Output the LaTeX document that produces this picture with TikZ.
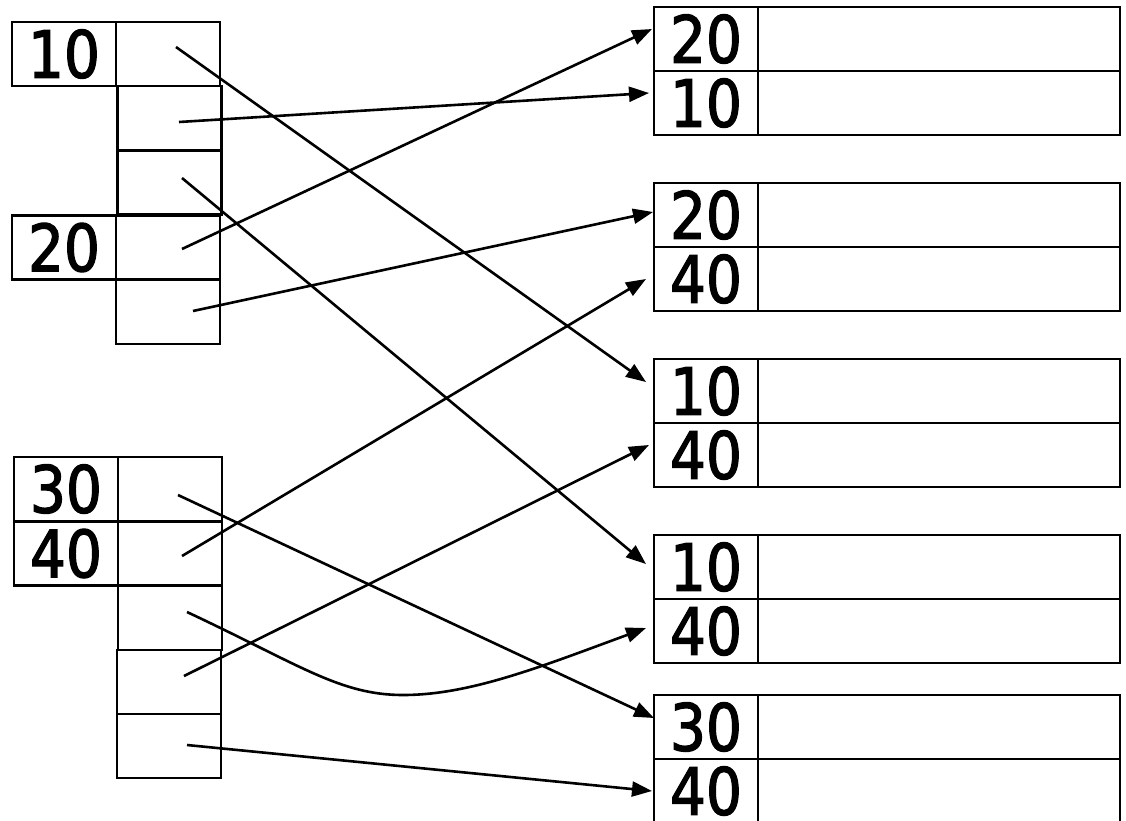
\documentclass[tikz,border=0pt]{standalone}
\usepackage{fontspec}
\setmainfont{DejaVu Sans}[FakeStretch=0.87,FakeBold=2]
\usetikzlibrary{arrows.meta,calc}

\begin{document}
\begin{tikzpicture}[x=1pt,y=-1pt,
  cell/.style={draw=black,line width=2.2pt,minimum width=104pt,minimum height=64pt,
    inner sep=0pt,outer sep=0pt,font=\fontsize{65}{70}\selectfont},
  valcell/.style={cell,minimum width=362pt},
  ptr/.style={line width=2.6pt,-{Triangle[length=20pt,width=15pt]}}]

\fill[white] (0,0) rectangle (1126,820);
\useasboundingbox (0,0) rectangle (1126,820);

% ---- left index, first group ----
\node[cell] (k10) at (64,54) {10};
\node[cell] (p10) at (168,54) {};
\node[cell] (b2)  at (169.5,118) {};
\node[cell] (b3)  at (169.5,182.5) {};
\node[cell] (k20) at (64,247.5) {20};
\node[cell] (p20) at (168,247.5) {};
\node[cell] (b5)  at (168,312) {};

% ---- left index, second group ----
\node[cell] (k30) at (66,489) {30};
\node[cell] (p30) at (170,489) {};
\node[cell] (k40) at (66,553.5) {40};
\node[cell] (p40) at (170,553.5) {};
\node[cell] (b8)  at (170,618) {};
\node[cell] (b9)  at (169,682) {};
\node[cell] (b10) at (169,746) {};

% ---- data blocks on the right ----
\foreach \n/\ya/\ka/\yb/\kb in {1/39/20/103/10, 2/215/20/279/40, 3/391/10/455/40,
                              4/567/10/631/40, 5/727/30/791/40}{
  \node[cell]    (r\n a) at (706,\ya) {\ka};
  \node[valcell] (v\n a) at (939,\ya) {};
  \node[cell]    (r\n b) at (706,\yb) {\kb};
  \node[valcell] (v\n b) at (939,\yb) {};
}

% ---- pointer start points ----
\coordinate (s1)  at (176,47);
\coordinate (s2)  at (179,122);
\coordinate (s3)  at (182,178);
\coordinate (s4)  at (182,249);
\coordinate (s5)  at (193,311);
\coordinate (s6)  at (178,495);
\coordinate (s7)  at (182,556);
\coordinate (s8)  at (187,612);
\coordinate (s9)  at (184,676);
\coordinate (s10) at (187,745);

% ---- pointers ----
\draw[ptr] (s1)  -- ([shift={(-8,-9)}]r3a.west);
\draw[ptr] (s2)  -- ([shift={(-5,-10)}]r1b.west);
\draw[ptr] (s3)  -- ([shift={(-8,-3)}]r4a.west);
\draw[ptr] (s4)  -- ([shift={(-2,-10)}]r1a.west);
\draw[ptr] (s5)  -- ([shift={(-1,-3)}]r2a.west);
\draw[ptr] (s6)  -- ([shift={(0,-9)}]r5a.west);
\draw[ptr] (s7)  -- ([shift={(-8,0)}]r2b.west);
\draw[ptr] (s8)  .. controls (300,665) and (340,695) .. (403,695)
                 .. controls (470,695) and (540,667) .. ([shift={(-8,-3)}]r4b.west);
\draw[ptr] (s9)  -- ([shift={(-5,-10)}]r3b.west);
\draw[ptr] (s10) -- ([shift={(-2,0)}]r5b.west);

\end{tikzpicture}
\end{document}
